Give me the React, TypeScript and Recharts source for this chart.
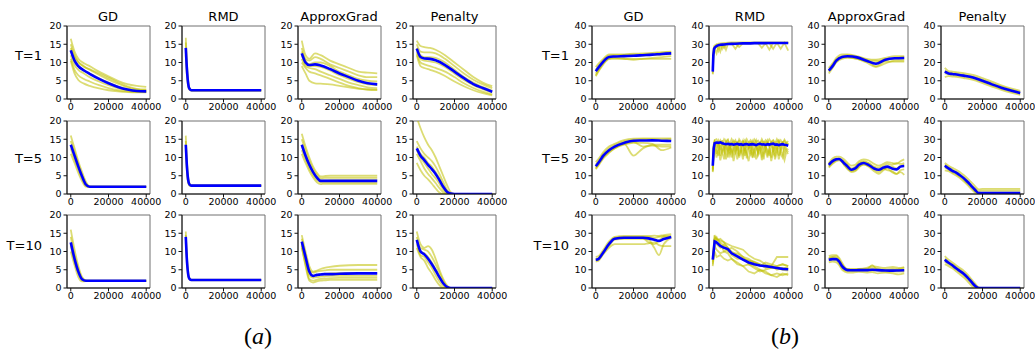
import { LineChart, Line, XAxis, YAxis, ReferenceArea } from "recharts";

// shared x grids (iterations)
const X_SMOOTH = [0, 2000, 4000, 7000, 10000, 15000, 20000, 25000, 30000, 35000, 40000];
const X_FAST = [0, 500, 1000, 1500, 2000, 3000, 5000, 10000, 20000, 30000, 40000];
const X_MID = [0, 2000, 4000, 6000, 8000, 10000, 12000, 15000, 20000, 30000, 40000];
const X_PEN = [0, 2000, 4000, 6000, 8000, 10000, 12000, 14000, 16000, 18000, 20000, 40000];
const X_RMD1 = [0, 300, 700, 1200, 2000, 3000, 4000, 5000, 6000, 7000, 8000, 10000, 12000, 14000, 16000, 18000, 20000, 22000, 24000, 26000, 28000, 30000, 32000, 34000, 36000, 38000, 40000];
const X_NOISE = [0, 500, 1000, 2000, 3000, 4000, 5000, 6000, 7000, 8000, 9000, 10000, 11000, 12000, 13000, 14000, 15000, 16000, 17000, 18000, 19000, 20000, 21000, 22000, 23000, 24000, 25000, 26000, 27000, 28000, 29000, 30000, 31000, 32000, 33000, 34000, 35000, 36000, 37000, 38000, 39000, 40000];
const X_WAVE = [0, 2000, 4000, 5500, 8000, 10000, 12000, 14000, 16000, 18500, 21000, 24000, 26500, 29000, 31000, 33500, 36000, 38000, 40000];
const X_GD10 = [0, 1500, 4000, 7000, 10000, 15000, 20000, 25000, 28000, 31000, 33500, 36000, 40000];
const X_RMD10 = [0, 1000, 2000, 4000, 6000, 8000, 10000, 13000, 16000, 19000, 22000, 25000, 28000, 31000, 34000, 37000, 40000];
const X_APX10 = [0, 2000, 4000, 5500, 7000, 8500, 10000, 13000, 16000, 20000, 23000, 26000, 30000, 34000, 37000, 40000];

const METHODS = ["GD", "RMD", "ApproxGrad", "Penalty"];
const ROWS = ["T=1", "T=5", "T=10"];
const X_TICKS = [0, 20000, 40000];
const A_TICKS = [0, 5, 10, 15, 20];
const B_TICKS = [0, 10, 20, 30, 40];

// ---------- panel (a) ----------
const A1_GD_MEAN = [13.3, 10.5, 9.0, 7.8, 6.9, 5.5, 4.3, 3.3, 2.6, 2.2, 2.1];
const A1_GD_RUNS = [
  [16.5, 13, 11, 9.8, 9, 7.5, 6.2, 5, 4.1, 3.6, 3.3],
  [15, 12, 10.2, 9, 8, 6.6, 5.3, 4.2, 3.2, 2.6, 2.4],
  [14, 11.5, 10, 8.8, 8.2, 7, 5.8, 4.6, 3.5, 2.8, 2.6],
  [13.5, 10.5, 9, 7.8, 7, 5.7, 4.5, 3.5, 2.7, 2.3, 2.1],
  [12, 9.3, 8, 7, 6, 4.8, 3.8, 3, 2.4, 2.1, 2.0],
  [11, 8, 6.5, 5.5, 4.8, 3.8, 3.0, 2.4, 2.1, 1.9, 1.9],
  [10.5, 7, 5.2, 4.2, 3.6, 2.9, 2.4, 2.1, 1.9, 1.8, 1.8],
];
const A1_RMD_MEAN = [14, 9, 5.5, 3.5, 2.8, 2.4, 2.4, 2.4, 2.4, 2.4, 2.4];
const A1_RMD_RUNS = [
  [16.8, 11, 6.5, 4, 3, 2.5, 2.5, 2.5, 2.5, 2.5, 2.5],
  [15.5, 10, 6, 3.8, 2.9, 2.4, 2.4, 2.4, 2.4, 2.4, 2.4],
  [13, 8, 5, 3.2, 2.6, 2.3, 2.3, 2.3, 2.3, 2.3, 2.3],
  [12, 7, 4.3, 3, 2.5, 2.3, 2.3, 2.3, 2.3, 2.3, 2.3],
];
const A1_APX_MEAN = [12.5, 10, 9.3, 9.5, 9.2, 8.2, 7.0, 6.0, 5.0, 4.3, 4.0];
const A1_APX_RUNS = [
  [16, 12, 11, 12.5, 12, 10.5, 9.5, 8.5, 7.5, 7.2, 7.0],
  [14, 11, 10.5, 11.5, 11, 9.5, 8.5, 7.5, 6.5, 6.0, 6.0],
  [13, 10.5, 9.5, 10, 10, 9, 7.5, 6.5, 5.5, 5, 4.8],
  [12, 9.5, 9, 9, 8.8, 7.8, 6.5, 5.5, 4.6, 4, 3.8],
  [11, 9, 8.5, 8.2, 7.5, 6.5, 5.5, 4.5, 3.8, 3.2, 3.0],
  [10, 8.5, 7.5, 7, 6.5, 5.5, 4.5, 3.6, 3.0, 2.6, 2.5],
  [9, 7, 5, 4.3, 4.2, 4.0, 3.6, 3.2, 2.8, 2.6, 2.5],
];
const A1_PEN_MEAN = [13.8, 11.5, 11.1, 11.0, 10.6, 9.3, 7.5, 5.7, 4.1, 3.0, 2.0];
const A1_PEN_RUNS = [
  [16, 14.5, 14.2, 14, 13.5, 12, 10, 8, 6, 4.5, 3.5],
  [15, 13, 12.8, 12.8, 12.5, 11, 9, 7, 5.3, 4, 3],
  [14, 12, 11.5, 11.5, 11.3, 10, 8, 6, 4.5, 3.3, 2.3],
  [13, 11, 10.5, 10.3, 10, 8.8, 7, 5.2, 3.8, 2.7, 1.8],
  [12.5, 10, 9.5, 9, 8.5, 7.5, 6, 4.3, 3.0, 2.0, 1.3],
  [12, 9, 8.5, 8, 7.5, 6.3, 4.8, 3.5, 2.4, 1.6, 1.0],
];

const A5_GD_MEAN = [13.5, 10.5, 7.5, 4.8, 2.6, 2.0, 2.0, 2.0, 2.0, 2.0, 2.0];
const A5_GD_RUNS = [
  [16, 12.5, 9, 6, 3.4, 2.1, 2.0, 2.0, 2.0, 2.0, 2.0],
  [14.5, 11.5, 8.2, 5.3, 2.9, 2.0, 2.0, 2.0, 2.0, 2.0, 2.0],
  [12.5, 9.5, 6.8, 4.2, 2.3, 2.0, 2.0, 2.0, 2.0, 2.0, 2.0],
  [11, 8.5, 5.8, 3.5, 2.0, 1.9, 1.9, 1.9, 1.9, 1.9, 1.9],
];
const A5_RMD_MEAN = [13.5, 8.5, 5, 3.2, 2.6, 2.3, 2.3, 2.3, 2.3, 2.3, 2.3];
const A5_RMD_RUNS = [
  [16, 10, 6, 3.8, 2.9, 2.4, 2.4, 2.4, 2.4, 2.4, 2.4],
  [14.5, 9.5, 5.5, 3.5, 2.7, 2.3, 2.3, 2.3, 2.3, 2.3, 2.3],
  [12.5, 7.5, 4.2, 2.9, 2.4, 2.2, 2.2, 2.2, 2.2, 2.2, 2.2],
  [12, 7, 4, 2.7, 2.3, 2.2, 2.2, 2.2, 2.2, 2.2, 2.2],
];
const A5_APX_MEAN = [13.5, 10.5, 8, 6, 4.5, 3.6, 3.6, 3.6, 3.6, 3.6, 3.6];
const A5_APX_RUNS = [
  [16.5, 13, 10, 7.5, 5.8, 4.8, 4.9, 5.0, 5.0, 5.0, 5.0],
  [15, 12, 9, 6.8, 5.2, 4.3, 4.4, 4.4, 4.4, 4.4, 4.4],
  [13.5, 10.5, 8, 6, 4.5, 3.7, 3.7, 3.8, 3.8, 3.8, 3.8],
  [12, 9.5, 7, 5.2, 3.8, 3.2, 3.2, 3.2, 3.2, 3.2, 3.2],
  [11, 8.5, 6.3, 4.5, 3.2, 2.7, 2.8, 2.8, 2.8, 2.8, 2.8],
];
const A5_PEN_MEAN = [12.5, 10.5, 9.3, 8, 6.8, 5.5, 3.8, 2, 0.6, 0.1, 0, 0];
const A5_PEN_RUNS = [
  [21, 18, 15.5, 13.5, 12, 10, 7.5, 5, 2.5, 0.5, 0, 0],
  [14.5, 12.5, 11, 10, 9, 7.5, 5.5, 3.3, 1.2, 0.1, 0, 0],
  [13, 11, 10, 8.5, 7.5, 6, 4.3, 2.3, 0.6, 0, 0, 0],
  [12, 10, 8.5, 7, 5.5, 4.3, 2.8, 1.2, 0.2, 0, 0, 0],
  [11, 9, 7, 5.5, 4.3, 3, 1.6, 0.5, 0, 0, 0, 0],
  [8.5, 6.5, 5, 4, 2.8, 1.5, 0.4, 0, 0, 0, 0, 0],
];

const A10_GD_MEAN = [12.5, 8, 4.5, 2.4, 2.0, 2.0, 2.0, 2.0, 2.0, 2.0, 2.0];
const A10_GD_RUNS = [
  [16, 10.5, 6, 3, 2.1, 2.0, 2.0, 2.0, 2.0, 2.0, 2.0],
  [14, 9, 5.2, 2.6, 2.0, 2.0, 2.0, 2.0, 2.0, 2.0, 2.0],
  [11.5, 7.2, 4, 2.1, 1.9, 1.9, 1.9, 1.9, 1.9, 1.9, 1.9],
  [10, 6.2, 3, 1.8, 1.9, 1.9, 1.9, 1.9, 1.9, 1.9, 1.9],
];
const A10_RMD_MEAN = [14, 8.5, 5, 3.1, 2.5, 2.2, 2.2, 2.2, 2.2, 2.2, 2.2];
const A10_RMD_RUNS = [
  [15.5, 9.5, 5.8, 3.5, 2.7, 2.3, 2.3, 2.3, 2.3, 2.3, 2.3],
  [14.5, 9, 5.2, 3.2, 2.5, 2.2, 2.2, 2.2, 2.2, 2.2, 2.2],
  [12.5, 7.5, 4.3, 2.8, 2.3, 2.1, 2.1, 2.1, 2.1, 2.1, 2.1],
];
const A10_APX_MEAN = [12.7, 8.5, 4.5, 3.3, 3.6, 3.7, 3.8, 3.8, 3.9, 4.0, 4.0];
const A10_APX_RUNS = [
  [14.5, 10, 6, 4.5, 4.8, 5.2, 5.5, 5.8, 6.1, 6.3, 6.3],
  [13.5, 9, 5, 4.2, 4.5, 4.7, 4.8, 5.0, 5.0, 5.0, 5.0],
  [12.5, 8, 4.2, 3.4, 3.6, 3.8, 3.9, 4.0, 4.1, 4.1, 4.1],
  [12, 7.5, 3.5, 2.8, 3.0, 3.1, 3.2, 3.3, 3.3, 3.3, 3.3],
  [11, 6.5, 2.5, 2.0, 2.3, 2.5, 2.6, 2.7, 2.8, 2.8, 2.8],
  [11.5, 6, 2, 1.5, 1.8, 2.0, 2.1, 2.2, 2.2, 2.2, 2.2],
];
const A10_PEN_MEAN = [13.2, 10, 9.2, 8, 6.5, 4.8, 3, 1.3, 0.3, 0, 0, 0];
const A10_PEN_RUNS = [
  [15.5, 12, 11, 11.5, 10.5, 8, 5, 2.5, 0.7, 0, 0, 0],
  [14, 11, 10.5, 10, 8.5, 6.5, 4.2, 2, 0.4, 0, 0, 0],
  [13, 10, 9.5, 8.5, 7, 5, 3, 1.3, 0.2, 0, 0, 0],
  [12, 9, 8.5, 7, 5.5, 3.5, 1.8, 0.5, 0, 0, 0, 0],
  [11, 8.5, 7.5, 5.5, 4, 2.2, 0.8, 0, 0, 0, 0, 0],
];

// ---------- panel (b) ----------
const B1_GD_MEAN = [15.2, 18, 20.5, 23, 23.3, 23.5, 23.7, 24, 24.3, 24.7, 25];
const B1_GD_RUNS = [
  [17.5, 20, 22, 24.5, 24.5, 24.5, 24.8, 25, 25.3, 25.7, 26],
  [16, 19, 21.5, 23.8, 24, 24.2, 24.3, 24.5, 24.8, 25.2, 25.5],
  [14, 17, 20, 22.5, 23, 23.3, 23.5, 23.8, 24, 24.3, 24.6],
  [12.5, 16, 19, 22, 22.5, 22, 21.5, 22, 22.5, 23, 23.5],
  [13, 16.5, 19.5, 22, 22, 22, 22, 22, 22, 22, 22],
];
const B1_RMD_MEAN = [15, 24, 27.5, 28.3, 29, 29.5, 29.7, 29.8, 29.9, 30, 30.1, 30.2, 30.3, 30.4, 30.5, 30.5, 30.5, 30.6, 30.6, 30.6, 30.6, 30.7, 30.7, 30.7, 30.7, 30.7, 30.7];
const B1_RMD_RUNS = [
  [13.5, 22, 26, 27, 25, 29, 26, 29.5, 30, 27, 30, 30.5, 30.5, 30.5, 30.5, 30.5, 30.5, 30.5, 30.5, 30.5, 30.5, 27, 30.8, 30.8, 27.5, 30.8, 26.5],
  [16, 25, 28, 28.5, 29.5, 26.5, 29.8, 30, 28, 30.2, 30.3, 30.4, 27.5, 30.5, 30.6, 30.6, 30.6, 30.6, 30.6, 30.6, 30.6, 30.6, 27.5, 30.8, 30.8, 30.8, 30.8],
  [14, 23, 27, 28, 29, 29.5, 29.7, 27.5, 29.8, 30, 30.1, 30.2, 30.3, 28.5, 30.5, 30.5, 30.5, 30.6, 30.6, 28, 30.6, 30.7, 30.7, 30.7, 30.7, 30.7, 30.7],
  [17, 26, 29, 29.5, 30, 30.3, 30.5, 30.6, 30.7, 30.8, 30.9, 31, 31, 31, 31, 31, 31, 31, 31, 31, 31, 31, 31, 31, 31, 31, 31],
];
const B1_APX_MEAN = [15.5, 18, 21, 23, 23.4, 22.8, 21, 19.3, 21.5, 22.3, 22.5];
const B1_APX_RUNS = [
  [17, 19.5, 22.5, 24.5, 24.5, 23.5, 22, 21.5, 22.5, 23.5, 23.5],
  [16, 18.5, 21.5, 23.5, 24, 23, 21.5, 18, 21, 22.5, 23],
  [15, 17.5, 20.5, 22.5, 23, 22.5, 20.5, 20, 22, 22, 22],
  [14, 17, 20, 22, 22.5, 22, 20, 17.5, 19.5, 21, 21],
  [15.5, 18.5, 21.5, 23, 23, 22, 21, 21, 20.5, 20.5, 20.5],
];
const B1_PEN_MEAN = [15, 14, 13.7, 13.3, 12.8, 11.8, 10, 8, 6.2, 4.7, 3.3];
const B1_PEN_RUNS = [
  [17, 15.3, 15, 14.6, 14.2, 13.2, 11.5, 9.5, 7.5, 5.8, 4.5],
  [15.5, 14.5, 14.2, 13.8, 13.3, 12.3, 10.6, 8.6, 6.8, 5.2, 3.8],
  [14, 13.5, 13.2, 12.8, 12.3, 11.3, 9.5, 7.5, 5.7, 4.2, 2.9],
  [12, 12.5, 12.3, 12, 11.5, 10.5, 8.7, 6.8, 5, 3.5, 2.3],
];

const B5_GD_MEAN = [15.2, 18, 21, 24, 26, 28, 29.2, 29.3, 29.4, 29.2, 29];
const B5_GD_RUNS = [
  [17.5, 20, 23, 26, 27.5, 29.5, 30.3, 30.5, 30.5, 30.5, 30.5],
  [16, 19, 22, 25, 26.8, 28.8, 29.8, 30, 30, 29.8, 30],
  [14.5, 17.5, 20.5, 23.5, 25.5, 27.5, 28.5, 26, 26.5, 26, 26],
  [13.5, 16.5, 19.5, 22.5, 25, 27.5, 21, 25, 27, 27, 27],
  [14, 17, 20, 23, 25, 27, 28, 28, 27.5, 24, 25.5],
];
const B5_RMD_MEAN = [15.5, 25, 27.8, 28.2, 28, 28.3, 27.8, 27.5, 27.3, 27.5, 27.2, 27.4, 27.0, 27.3, 27.5, 27.1, 27.3, 26.9, 27.2, 27.4, 27.0, 27.2, 27.3, 27.1, 26.8, 27.3, 27.5, 27.1, 27.2, 26.9, 27.3, 27.1, 27.4, 27.6, 27.0, 27.2, 26.8, 27.1, 27.3, 27.0, 26.8, 26.5];
const B5_RMD_RUNS = [
  [13, 27, 29.5, 30, 28, 29.5, 27, 30, 28.5, 29.8, 27.5, 30, 28, 29.5, 27, 30, 28.5, 29, 27.5, 30, 28, 29.5, 27.8, 30, 28.5, 29.3, 27.5, 30, 28, 29.5, 27.5, 30, 28.5, 29.5, 27.5, 30, 28, 29.5, 27.5, 29.8, 28, 29],
  [14, 24, 26, 22, 27, 21, 25, 23, 28, 20, 26, 24, 22, 27, 19, 25, 23, 27, 21, 24, 26, 22, 25, 20, 27, 23, 26, 21, 24, 27, 22, 25, 20, 26, 23, 27, 21, 24, 26, 22, 25, 24],
  [12, 22, 25, 20, 24, 18.5, 23, 26, 19, 24, 21, 25, 18, 23, 26, 20, 24, 19, 25, 22, 18, 24, 21, 25, 19, 23, 26, 18.5, 22, 24, 20, 25, 18, 23, 21, 25, 19, 24, 22, 18.5, 23, 22],
  [14.5, 26, 28.5, 26, 29, 24, 28, 25, 29, 26, 23, 28.5, 25, 29, 24, 27.5, 26, 29, 23.5, 28, 25.5, 29, 24, 28, 26, 23, 28.5, 25, 29, 24.5, 28, 26, 29, 23, 28, 25, 28.5, 24, 29, 25.5, 28, 27],
  [13.5, 25, 27, 24, 21, 27, 23, 19, 26, 24, 28, 20, 26, 23, 28, 21, 25, 22, 27, 19.5, 25, 27, 20, 24, 28, 21, 23, 27, 19, 26, 24, 21, 27, 25, 19, 23, 27, 22, 20, 26, 24, 23],
  [12.5, 27, 29, 28, 25, 28.5, 29, 26, 28, 29.5, 25, 27, 29, 26, 28.5, 29, 25, 28, 29.5, 26, 28, 25, 29, 27, 29.5, 26, 28, 29, 25.5, 28, 29.5, 26, 28, 29, 25, 28.5, 29.5, 26, 28, 29, 26.5, 28],
];
const B5_APX_MEAN = [16, 18, 19, 19.2, 17, 15, 13.3, 14, 16, 17, 16, 14, 13.3, 14.5, 15, 14, 13.5, 15, 15.3];
const B5_APX_RUNS = [
  [17, 19.5, 20.5, 20.5, 19, 17, 15.5, 16, 18, 19, 18.5, 16.5, 15.5, 16.5, 17.5, 17, 16.5, 18, 19],
  [15, 17, 18.5, 19, 16, 13.5, 12, 12.5, 14.5, 16.5, 15, 12.5, 11, 13, 14, 12, 11, 13, 13.5],
  [15.5, 18.5, 19.5, 19, 18, 16, 14, 15, 17, 18, 17, 15, 14.5, 15.5, 16.5, 16, 17, 16.5, 17],
  [14.5, 16.5, 18, 18.5, 16.5, 14, 12.5, 13, 15, 16, 15.5, 13.5, 12, 14, 13, 12.5, 11, 12, 10.5],
  [16.5, 18, 19, 19.5, 17.5, 15.5, 13, 13.5, 16.5, 17.5, 17, 14.5, 13, 13.5, 15, 15, 14, 15.5, 16],
];
const B5_PEN_MEAN = [15.5, 14, 12.7, 11.7, 10.3, 8.7, 6.7, 4.5, 2.3, 0.5, 0.5, 0.5];
const B5_PEN_RUNS = [
  [17, 15.5, 14.3, 13.3, 12, 10.5, 8.5, 6.5, 4.3, 2.5, 2.8, 2.8],
  [16, 14.5, 13.2, 12.2, 10.8, 9.2, 7.2, 5, 3, 1.5, 1.8, 1.8],
  [14.5, 13.3, 12, 11, 9.5, 7.8, 5.8, 3.7, 1.5, 0.3, 0.8, 0.8],
  [13, 12.5, 11.3, 10.2, 8.7, 7, 5, 2.8, 0.8, 0, 0.2, 0.2],
];

const B10_GD_MEAN = [15.5, 16, 19.5, 24, 27, 27.5, 27.5, 27.5, 27.2, 26.5, 25.8, 26.8, 28];
const B10_GD_RUNS = [
  [17, 17.5, 21, 25.5, 28, 28.5, 28.5, 28.5, 28.5, 28.7, 28.5, 29, 29.5],
  [16, 16.5, 20, 24.5, 27.5, 28, 28, 28, 28, 27.5, 28, 28.5, 28.5],
  [15, 15.5, 19, 23, 26.5, 27, 27, 27, 26.5, 22, 18, 24, 27.5],
  [14.5, 15, 18.5, 22, 24, 24, 24, 24, 24.5, 25, 23.5, 23, 23],
  [15.5, 16, 19.5, 24, 27, 27.5, 27.5, 27.2, 25, 24, 26, 28, 28],
];
const B10_RMD_MEAN = [15.5, 25.5, 25, 23, 22, 21.3, 19, 17.3, 15.5, 14, 13, 12.3, 12, 11.5, 11, 10.5, 10.3];
const B10_RMD_RUNS = [
  [12, 28, 27, 26, 25, 24, 23, 22, 21, 18, 16, 15, 13, 12, 17, 17, 17],
  [17, 29, 26, 27, 25, 22, 20, 18, 16, 15, 14, 13, 12, 11, 11, 10, 9.5],
  [14, 23, 21, 19, 20, 19, 16, 14, 12, 9, 8, 10, 9, 7, 8, 7, 8],
  [16, 27, 28, 24, 20, 21, 22, 20, 17, 13, 11, 9, 10, 11, 12, 13, 12],
  [13, 20, 17, 18, 16, 15, 16, 13, 12, 13, 12, 10, 8, 7, 6, 8, 7],
  [15, 26, 24, 22, 24, 22, 18, 16, 16, 15, 14.5, 13, 11, 12, 10, 11, 11],
  [16, 25, 27, 25, 23, 20, 19, 19, 17, 16, 14, 12, 14, 13, 12, 13, 12],
];
const B10_APX_MEAN = [15.5, 15.8, 15.8, 14.5, 12, 10.5, 9.8, 9.7, 9.8, 9.8, 10, 9.8, 9.6, 9.5, 9.6, 9.7];
const B10_APX_RUNS = [
  [17.5, 18, 18, 16.5, 14, 11.5, 10.5, 10.5, 10.5, 11, 12, 11.5, 11, 11.5, 11, 11.5],
  [16.5, 17, 17.5, 15.5, 13, 11, 10, 10, 10.5, 10.5, 11, 10.5, 10, 10, 10.5, 11],
  [15, 15.5, 15, 13.5, 11, 9.5, 9.5, 9.2, 9.5, 9.5, 9.5, 9.5, 9, 9, 9, 9],
  [14, 14.5, 14, 12.5, 10, 9, 8.5, 8.5, 8.8, 8.5, 8.7, 8, 8.5, 8, 7.5, 8],
  [16, 17, 16.5, 15, 12.5, 10.5, 10, 9.8, 10, 10, 12.5, 10, 10, 10.5, 10, 10],
];
const B10_PEN_MEAN = [15.5, 13.8, 12.5, 10.8, 9.3, 7.8, 5.8, 3.5, 1.2, 0, 0, 0];
const B10_PEN_RUNS = [
  [17.5, 15.5, 14, 12.5, 11, 9.5, 7.5, 5, 2.5, 0.3, 0, 0],
  [16, 14.3, 13, 11.5, 10, 8.3, 6.3, 4, 1.7, 0, 0, 0],
  [14.5, 13, 11.8, 10.2, 8.7, 7, 5, 2.8, 0.6, 0, 0, 0],
  [13, 12, 10.8, 9.2, 7.5, 5.8, 3.8, 1.5, 0, 0, 0, 0],
];

type Spec = { xs: number[]; mean: number[]; runs: number[][]; curve?: "monotone" | "linear" };

const PANEL_A: Spec[][] = [
  [
    { xs: X_SMOOTH, mean: A1_GD_MEAN, runs: A1_GD_RUNS },
    { xs: X_FAST, mean: A1_RMD_MEAN, runs: A1_RMD_RUNS },
    { xs: X_SMOOTH, mean: A1_APX_MEAN, runs: A1_APX_RUNS },
    { xs: X_SMOOTH, mean: A1_PEN_MEAN, runs: A1_PEN_RUNS },
  ],
  [
    { xs: X_MID, mean: A5_GD_MEAN, runs: A5_GD_RUNS },
    { xs: X_FAST, mean: A5_RMD_MEAN, runs: A5_RMD_RUNS },
    { xs: X_MID, mean: A5_APX_MEAN, runs: A5_APX_RUNS },
    { xs: X_PEN, mean: A5_PEN_MEAN, runs: A5_PEN_RUNS },
  ],
  [
    { xs: X_MID, mean: A10_GD_MEAN, runs: A10_GD_RUNS },
    { xs: X_FAST, mean: A10_RMD_MEAN, runs: A10_RMD_RUNS },
    { xs: X_MID, mean: A10_APX_MEAN, runs: A10_APX_RUNS },
    { xs: X_PEN, mean: A10_PEN_MEAN, runs: A10_PEN_RUNS },
  ],
];

const PANEL_B: Spec[][] = [
  [
    { xs: X_SMOOTH, mean: B1_GD_MEAN, runs: B1_GD_RUNS },
    { xs: X_RMD1, mean: B1_RMD_MEAN, runs: B1_RMD_RUNS, curve: "linear" },
    { xs: X_SMOOTH, mean: B1_APX_MEAN, runs: B1_APX_RUNS },
    { xs: X_SMOOTH, mean: B1_PEN_MEAN, runs: B1_PEN_RUNS },
  ],
  [
    { xs: X_SMOOTH, mean: B5_GD_MEAN, runs: B5_GD_RUNS },
    { xs: X_NOISE, mean: B5_RMD_MEAN, runs: B5_RMD_RUNS, curve: "linear" },
    { xs: X_WAVE, mean: B5_APX_MEAN, runs: B5_APX_RUNS },
    { xs: X_PEN, mean: B5_PEN_MEAN, runs: B5_PEN_RUNS },
  ],
  [
    { xs: X_GD10, mean: B10_GD_MEAN, runs: B10_GD_RUNS },
    { xs: X_RMD10, mean: B10_RMD_MEAN, runs: B10_RMD_RUNS, curve: "linear" },
    { xs: X_APX10, mean: B10_APX_MEAN, runs: B10_APX_RUNS },
    { xs: X_PEN, mean: B10_PEN_MEAN, runs: B10_PEN_RUNS },
  ],
];

// layout of the plot boxes
const A_LEFT = [66.5, 182, 297.5, 413];
const B_LEFT = [592, 708.5, 825, 941];
const TOPS = [26, 120.5, 215];
const ROW_LABEL_Y = [55, 158, 245];
const BOX_W = 83;
const BOX_H = 73;
const Y_AXIS_W = 26;
const PAD_TOP = 6;
const PAD_RIGHT = 20;
const X_AXIS_H = 18;

const FONT = "'DejaVu Sans', sans-serif";
const tickStyle = { fontSize: 9.5, fill: "#000", fontFamily: FONT };

const pts = (xs: number[], ys: number[]) =>
  xs.map((x, i) => ({ x, y: ys[i] })).filter((p) => p.y !== undefined);

function SmallPlot({ spec, left, top, ymax, yticks }: { spec: Spec; left: number; top: number; ymax: number; yticks: number[] }) {
  const curve = spec.curve ?? "monotone";
  return (
    <div style={{ position: "absolute", left: left - Y_AXIS_W, top: top - PAD_TOP }}>
      <LineChart
        width={Y_AXIS_W + BOX_W + PAD_RIGHT}
        height={PAD_TOP + BOX_H + X_AXIS_H}
        margin={{ top: PAD_TOP, right: PAD_RIGHT, bottom: 0, left: 0 }}
      >
        <XAxis
          type="number"
          dataKey="x"
          domain={[-2000, 42000]}
          ticks={X_TICKS}
          interval={0}
          allowDataOverflow
          height={X_AXIS_H}
          tickSize={3.5}
          tickMargin={1}
          tick={tickStyle}
          stroke="#111"
        />
        <YAxis
          type="number"
          dataKey="y"
          domain={[0, ymax]}
          ticks={yticks}
          interval={0}
          allowDataOverflow
          width={Y_AXIS_W}
          tickSize={3.5}
          tickMargin={2}
          tick={tickStyle}
          stroke="#111"
        />
        <ReferenceArea x1={-2000} x2={42000} y1={0} y2={ymax} fill="none" stroke="#707070" strokeWidth={1} />
        {spec.runs.map((r, i) => (
          <Line
            key={i}
            data={pts(spec.xs, r)}
            dataKey="y"
            type={curve}
            stroke="#bfbf00"
            strokeOpacity={0.55}
            strokeWidth={1.8}
            dot={false}
            isAnimationActive={false}
          />
        ))}
        <Line
          data={pts(spec.xs, spec.mean)}
          dataKey="y"
          type={curve}
          stroke="#0000ff"
          strokeWidth={2.6}
          dot={false}
          isAnimationActive={false}
        />
      </LineChart>
    </div>
  );
}

function Panel({ grid, lefts, ymax, yticks, labelRight }: { grid: Spec[][]; lefts: number[]; ymax: number; yticks: number[]; labelRight: number }) {
  return (
    <>
      {METHODS.map((m, c) => (
        <div
          key={m}
          style={{ position: "absolute", left: lefts[c] + BOX_W / 2 - 60, top: 8.5, width: 120, textAlign: "center", fontSize: 13, lineHeight: "15px", fontFamily: FONT }}
        >
          {m}
        </div>
      ))}
      {ROWS.map((r, i) => (
        <div
          key={r}
          style={{ position: "absolute", left: labelRight - 60, top: ROW_LABEL_Y[i] - 7.5, width: 60, textAlign: "right", fontSize: 13, lineHeight: "15px", fontFamily: FONT }}
        >
          {r}
        </div>
      ))}
      {grid.map((row, i) =>
        row.map((spec, c) => (
          <SmallPlot key={`${i}-${c}`} spec={spec} left={lefts[c]} top={TOPS[i]} ymax={ymax} yticks={yticks} />
        ))
      )}
    </>
  );
}

function SubLabel({ letter, cx }: { letter: string; cx: number }) {
  return (
    <div
      style={{ position: "absolute", left: cx - 40, top: 322, width: 80, textAlign: "center", fontSize: 24, lineHeight: "28px", fontFamily: "'Liberation Serif', 'DejaVu Serif', serif" }}
    >
      (<span style={{ fontStyle: "italic" }}>{letter}</span>)
    </div>
  );
}

export default function App() {
  return (
    <div style={{ position: "absolute", left: 0, top: 0, width: 1035, height: 352, background: "#fff", overflow: "hidden" }}>
      <Panel grid={PANEL_A} lefts={A_LEFT} ymax={20} yticks={A_TICKS} labelRight={42} />
      <Panel grid={PANEL_B} lefts={B_LEFT} ymax={40} yticks={B_TICKS} labelRight={569} />
      <SubLabel letter="a" cx={258} />
      <SubLabel letter="b" cx={785} />
    </div>
  );
}
